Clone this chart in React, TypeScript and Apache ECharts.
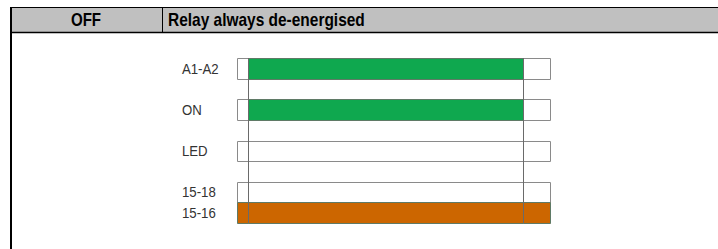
import React, { useEffect, useRef } from "react";
import * as echarts from "echarts";

// ---- data ----
const headerMode = "OFF";
const headerDescription = "Relay always de-energised";
const signalNames = ["A1-A2", "ON", "LED", "15-18", "15-16"];
const rowPositions = [0, 1, 2, 3, 3.5];
// time breakpoints: idle, supply on, supply off, end
const timeBreaks = [0, 3.5, 91.4, 100];
// state of each signal in each of the three time segments (1 = active)
const stateA1A2 = [0, 1, 0];
const stateON = [0, 1, 0];
const stateLED = [0, 0, 0];
const state1518 = [0, 0, 0];
const state1516 = [1, 1, 1];
const signalStates = [stateA1A2, stateON, stateLED, state1518, state1516];
const eventTimes = [timeBreaks[1], timeBreaks[2]];

// ---- styles ----
const activeColors = ["#0fa84f", "#0fa84f", "#0fa84f", "#0fa84f", "#cc6600"];
const baseFont = "'Liberation Sans Narrow', 'Arial Narrow', 'Liberation Sans', Arial, sans-serif";

export default function App() {
  const ref = useRef<HTMLDivElement>(null);

  useEffect(() => {
    if (!ref.current) return;
    const chart = echarts.init(ref.current, undefined, { renderer: "svg" });

    const segData: number[][] = [];
    signalStates.forEach((states, si) => {
      states.forEach((st, j) => {
        segData.push([timeBreaks[j], timeBreaks[j + 1], rowPositions[si], st, si, j]);
      });
    });

    const option: any = {
      animation: false,
      backgroundColor: "#ffffff",
      grid: { left: 237, right: 168, top: 58, bottom: 26 },
      xAxis: { type: "value", min: timeBreaks[0], max: timeBreaks[3], show: false },
      yAxis: { type: "value", min: -0.25, max: 3.75, inverse: true, show: false },
      graphic: [
        { type: "rect", shape: { x: 10, y: 7, width: 708, height: 25 }, style: { fill: "#c0c0c0" }, silent: true },
        { type: "line", shape: { x1: 10, y1: 7.5, x2: 718, y2: 7.5 }, style: { stroke: "#000", lineWidth: 1 } },
        { type: "line", shape: { x1: 10, y1: 32.5, x2: 718, y2: 32.5 }, style: { stroke: "#000", lineWidth: 1.5 } },
        { type: "line", shape: { x1: 11, y1: 7, x2: 11, y2: 249 }, style: { stroke: "#000", lineWidth: 2 } },
        { type: "line", shape: { x1: 162.5, y1: 7, x2: 162.5, y2: 32 }, style: { stroke: "#000", lineWidth: 1 } },
        {
          type: "text",
          x: 86,
          y: 20,
          scaleX: 0.84,
          style: {
            text: headerMode,
            fill: "#000",
            font: `bold 18px ${baseFont}`,
            align: "center",
            verticalAlign: "middle",
          },
        },
        {
          type: "text",
          x: 168,
          y: 20,
          scaleX: 0.86,
          style: {
            text: headerDescription,
            fill: "#000",
            font: `bold 18px ${baseFont}`,
            align: "left",
            verticalAlign: "middle",
          },
        },
      ],
      series: [
        {
          type: "custom",
          data: segData,
          encode: { x: [0, 1], y: 2 },
          renderItem: (params: any, api: any) => {
            const t0 = api.value(0);
            const t1 = api.value(1);
            const pos = api.value(2);
            const st = api.value(3);
            const si = api.value(4);
            const j = api.value(5);
            const p0 = api.coord([t0, pos - 0.25]);
            const p1 = api.coord([t1, pos + 0.25]);
            const children: any[] = [
              {
                type: "rect",
                shape: {
                  x: Math.round(p0[0]) + 0.5,
                  y: Math.round(p0[1]) + 0.5,
                  width: Math.round(p1[0]) - Math.round(p0[0]),
                  height: Math.round(p1[1]) - Math.round(p0[1]),
                },
                style: {
                  fill: st ? activeColors[si] : "#ffffff",
                  stroke: st ? "#5f7a66" : "#8a8a8a",
                  lineWidth: 1,
                },
              },
            ];
            if (j === 0) {
              children.push({
                type: "text",
                x: p0[0] - 55,
                y: (p0[1] + p1[1]) / 2,
                scaleX: 0.88,
                style: {
                  text: signalNames[si],
                  fill: "#333",
                  font: `15px ${baseFont}`,
                  align: "left",
                  verticalAlign: "middle",
                },
              });
            }
            return { type: "group", children };
          },
          markLine: {
            silent: true,
            symbol: "none",
            label: { show: false },
            lineStyle: { color: "#6a6a6a", width: 1, type: "solid" },
            data: eventTimes.map((t) => ({ xAxis: t })),
          },
          z: 2,
        },
      ],
    };
    chart.setOption(option);
    return () => chart.dispose();
  }, []);

  return (
    <div
      ref={ref}
      style={{ position: "fixed", left: 0, top: 0, width: 718, height: 249, background: "#fff" }}
    />
  );
}
